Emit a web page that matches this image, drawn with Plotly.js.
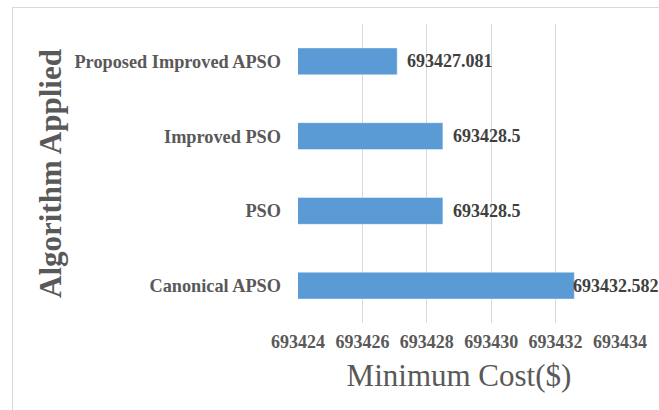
<!DOCTYPE html>
<html>
<head>
<meta charset="utf-8">
<script src="https://cdn.plot.ly/plotly-3.0.1.min.js"></script>
<style>
  html, body { margin: 0; padding: 0; background: #ffffff; overflow: hidden; }
  #chart { width: 659px; height: 410px; }
</style>
</head>
<body>
<div id="chart"></div>
<script>
// Minimum cost reached by each optimisation algorithm (bottom to top)
const algorithms = ['Canonical APSO', 'PSO', 'Improved PSO', 'Proposed Improved APSO'];
const minCost = [693432.582, 693428.5, 693428.5, 693427.081];
const costTicks = [693424, 693426, 693428, 693430, 693432, 693434];

const W = 659, H = 410;
const margin = { l: 298, r: 39, t: 24, b: 87 };
const xRange = [costTicks[0], costTicks[costTicks.length - 1]];
const plotW = W - margin.l - margin.r;

const serif = '"Liberation Serif", "Times New Roman", Times, serif';
const labelFont = { family: serif, size: 18, color: '#404040', weight: 'bold' };

// measure a label so it can be kept inside the figure
const ctx = document.createElement('canvas').getContext('2d');
ctx.font = 'bold 18px "Liberation Serif"';

const valueLabels = minCost.map((v, i) => {
  const text = String(v);
  const endPx = (v - xRange[0]) / (xRange[1] - xRange[0]) * plotW + margin.l;
  const w = ctx.measureText(text).width;
  const shift = Math.min(8, (W - 2) - endPx - w);
  return {
    x: v, y: algorithms[i], xref: 'x', yref: 'y',
    text: text, showarrow: false,
    xanchor: 'left', yanchor: 'middle', xshift: shift,
    font: labelFont
  };
});

const trace = {
  type: 'bar',
  orientation: 'h',
  x: minCost,
  y: algorithms,
  width: 0.36,
  marker: { color: '#5b9bd5', line: { color: 'rgba(255,255,255,0.45)', width: 1 } },
  hoverinfo: 'x+y'
};

const layout = {
  width: W, height: H,
  margin: margin,
  paper_bgcolor: '#ffffff',
  plot_bgcolor: '#ffffff',
  showlegend: false,
  xaxis: {
    range: xRange,
    tickvals: costTicks,
    ticktext: costTicks.map(String),
    showgrid: true, gridcolor: '#d9d9d9', gridwidth: 1,
    zeroline: false, showline: false, ticks: '',
    ticklabelstandoff: 6,
    tickfont: { family: serif, size: 18, color: '#595959', weight: 'bold' },
    title: { text: 'Minimum Cost($)', standoff: 13,
             font: { family: serif, size: 31, color: '#595959' } },
    fixedrange: true
  },
  yaxis: {
    type: 'category',
    categoryorder: 'array', categoryarray: algorithms,
    range: [-0.5, algorithms.length - 0.5],
    showgrid: false, zeroline: false, showline: false, ticks: '',
    ticklabelstandoff: 16,
    tickfont: { family: serif, size: 18.3, color: '#595959', weight: 'bold' },
    title: { text: 'Algorithm Applied', standoff: 3,
             font: { family: serif, size: 31, color: '#595959', weight: 'bold' } },
    fixedrange: true
  },
  annotations: valueLabels,
  shapes: [{
    // chart frame
    type: 'rect', xref: 'paper', yref: 'paper', layer: 'below',
    x0: (12.5 - margin.l) / plotW,
    x1: 2,
    y0: -1,
    y1: (H - margin.b - 7.5) / (H - margin.t - margin.b),
    line: { color: '#d9d9d9', width: 1 },
    fillcolor: 'rgba(0,0,0,0)'
  }]
};

Plotly.newPlot('chart', [trace], layout, { displayModeBar: false, staticPlot: true });
</script>
</body>
</html>
